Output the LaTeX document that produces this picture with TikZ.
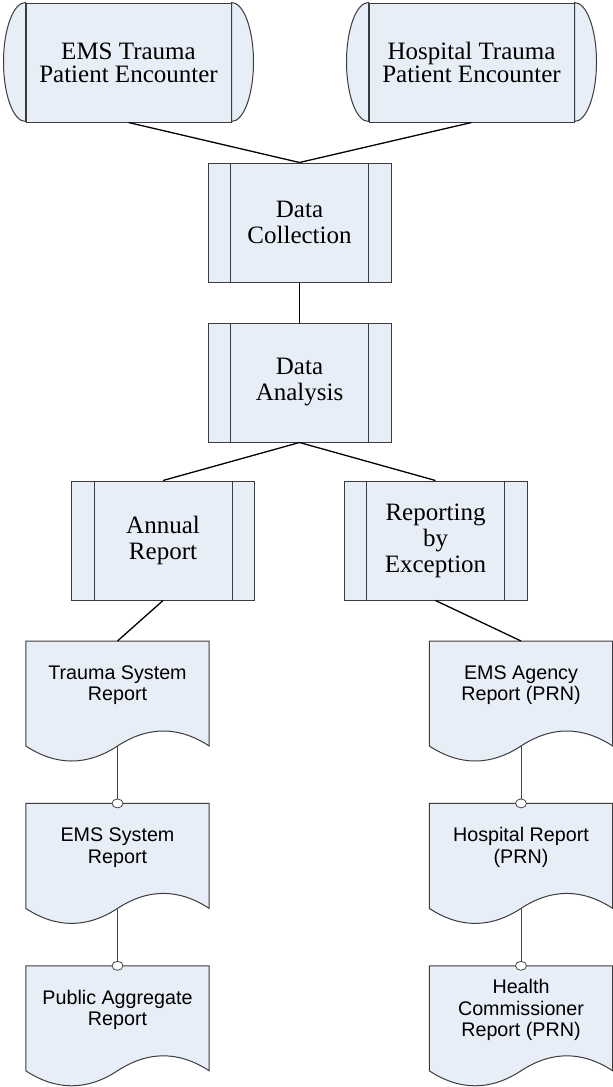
\documentclass[tikz,border=0pt]{standalone}
\usepackage{fontspec}
\setmainfont{Liberation Serif}
\setsansfont{Liberation Sans}
\usetikzlibrary{positioning, backgrounds}
\definecolor{boxfill}{RGB}{232,238,247}
\definecolor{boxline}{RGB}{60,60,60}
\definecolor{linkgray}{RGB}{70,70,70}
\tikzset{
  terminal/.style={rectangle, draw=boxline, fill=boxfill,
    minimum width=205pt, minimum height=119pt, inner sep=0pt, align=center,
    font=\fontsize{25}{23}\selectfont, line width=1pt},
  process/.style={rectangle, draw=boxline, fill=boxfill,
    minimum width=183pt, minimum height=119pt, inner sep=0pt, align=center,
    font=\fontsize{25}{26}\selectfont, line width=1pt},
  docnode/.style={rectangle, minimum width=183pt, minimum height=88pt,
    inner sep=0pt, align=center, font=\sffamily\fontsize{19.7}{21.5}\selectfont},
  edgeline/.style={line width=1pt, color=boxline},
  link/.style={line width=1.3pt, color=black},
  doclink/.style={line width=0.9pt, color=linkgray},
  endring/.style={draw=linkgray, fill=white, line width=0.8pt}
}

\begin{document}
\begin{tikzpicture}[x=1pt, y=1pt]
  \path[use as bounding box] (0,0) rectangle (613,-1087);

  \node [terminal] (ems) at (128.5,-62.5) {EMS Trauma\\Patient Encounter};
  \node [terminal, right=137pt of ems] (hosp) {Hospital Trauma\\Patient Encounter};

  \node [process] (dcol) at (299.5,-222.5) {Data\\Collection};
  \node [process, below=40pt of dcol] (dana) {Data\\Analysis};
  \node [process] (annual) at (163,-540.5) {Annual\\Report};
  \node [process] (except) at (435.5,-540.5) {Reporting\\by\\Exception};

  \node [docnode, anchor=north] (tsr) at (117.5,-641) {Trauma System\\Report};
  \node [docnode, below=74pt of tsr] (esr) {EMS System\\Report};
  \node [docnode, below=74pt of esr] (par) {Public Aggregate\\Report};
  \node [docnode, anchor=north] (ear) at (521,-641) {EMS Agency\\Report (PRN)};
  \node [docnode, below=74pt of ear] (hrep) {Hospital Report\\(PRN)};
  \node [docnode, below=74pt of hrep] (hcr) {Health\\Commissioner\\Report (PRN)};

  % rounded ends of the terminators
  \foreach \n in {ems, hosp} {
    \draw [edgeline, fill=boxfill] (\n.north west) arc [start angle=90, end angle=270, x radius=22, y radius=59.5] -- cycle;
    \draw [edgeline, fill=boxfill] (\n.north east) arc [start angle=90, end angle=-90, x radius=22, y radius=59.5] -- cycle;
  }
  \foreach \n in {dcol, dana, annual, except} {
    \draw [edgeline] ([xshift=23pt]\n.north west) -- ([xshift=23pt]\n.south west);
    \draw [edgeline] ([xshift=-23pt]\n.north east) -- ([xshift=-23pt]\n.south east);
  }
  % document outlines behind the texts
  \begin{scope}[on background layer]
    \fill [white] (0,0) rectangle (613,-1087);
    \foreach \n in {tsr, esr, par, ear, hrep, hcr}
      \draw [edgeline, fill=boxfill] (\n.north west) -- (\n.north east) -- ([yshift=-105pt]\n.north east)
        .. controls +(-30.5,20) and +(30.5,20) .. ([yshift=-105pt]\n.north)
        .. controls +(-30.5,-20) and +(30.5,-20) .. ([yshift=-105pt]\n.north west) -- cycle;
  \end{scope}

  \draw [link] (ems.south) -- (dcol.north);
  \draw [link] (hosp.south) -- (dcol.north);
  \draw [link] (dcol) -- (dana);
  \draw [link] (dana.south) -- (annual.north);
  \draw [link] (dana.south) -- (except.north);
  \draw [link] (annual.south) -- (tsr.north);
  \draw [link] (except.south) -- (ear.north);

  \foreach \a/\b in {tsr/esr, esr/par, ear/hrep, hrep/hcr} {
    \draw [doclink] ([yshift=-105pt]\a.north) -- (\b.north);
    \draw [endring] (\b.north) ellipse [x radius=5.5, y radius=4.5];
  }
\end{tikzpicture}
\end{document}
